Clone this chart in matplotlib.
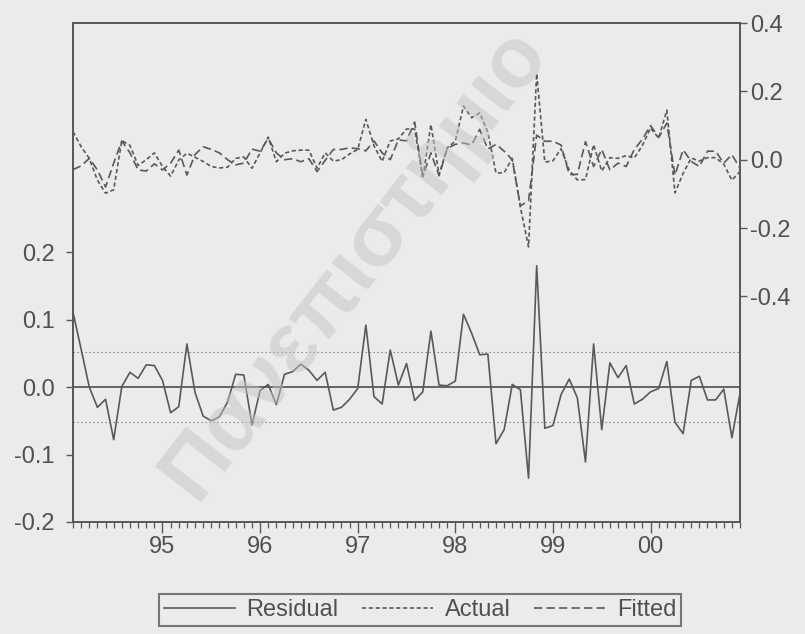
"""
Residual / Actual / Fitted chart (EViews style, monthly 1994M2-2000M12)
"""
import matplotlib
matplotlib.use('Agg')
import matplotlib.pyplot as plt
import matplotlib.ticker as mticker
import numpy as np

plt.rcParams['font.family'] = ['Liberation Sans', 'DejaVu Sans']
plt.rcParams['axes.unicode_minus'] = False

BG = '#ebebeb'
INK = '#595959'
TXT = '#505050'

# ── Data ──
START_YEAR = 1994
START_MONTH = 2

residual = [
    0.111, 0.056, 0.000, -0.030, -0.018, -0.078, 0.001, 0.022, 0.013, 0.033,
    0.032, 0.010, -0.038, -0.029, 0.064, -0.008, -0.043, -0.050, -0.044, -0.022,
    0.019, 0.018, -0.056, -0.005, 0.004, -0.026, 0.019, 0.023, 0.034, 0.025,
    0.010, 0.022, -0.034, -0.030, -0.018, -0.002, 0.092, -0.014, -0.025, 0.055,
    0.003, 0.035, -0.020, -0.007, 0.083, 0.003, 0.002, 0.009, 0.108, 0.080,
    0.048, 0.049, -0.084, -0.063, 0.004, -0.004, -0.135, 0.180, -0.061, -0.057,
    -0.011, 0.012, -0.016, -0.111, 0.064, -0.063, 0.036, 0.014, 0.032, -0.025,
    -0.018, -0.007, -0.002, 0.038, -0.052, -0.069, 0.010, 0.016, -0.019, -0.019,
    -0.003, -0.075, -0.009,
]

actual = [
    0.082, 0.038, 0.004, -0.060, -0.098, -0.088, 0.056, 0.042, -0.017, 0.000,
    0.020, -0.020, -0.048, -0.001, 0.019, 0.007, -0.005, -0.020, -0.024, -0.022,
    0.004, 0.008, -0.025, 0.020, 0.066, -0.006, 0.019, 0.026, 0.028, 0.028,
    -0.025, 0.020, -0.004, 0.000, 0.017, 0.030, 0.118, 0.041, -0.005, 0.055,
    0.061, 0.090, 0.090, -0.055, 0.103, -0.044, 0.035, 0.054, 0.157, 0.123,
    0.137, 0.080, -0.039, -0.038, 0.004, -0.139, -0.255, 0.252, -0.007, -0.003,
    0.032, -0.031, -0.059, -0.058, 0.044, -0.033, 0.006, 0.004, 0.012, 0.005,
    0.042, 0.093, 0.063, 0.145, -0.097, -0.040, 0.005, -0.004, 0.006, 0.006,
    -0.013, -0.060, -0.034,
]

fitted = [
    -0.029, -0.018, 0.004, -0.030, -0.080, -0.010, 0.055, 0.020, -0.030, -0.033,
    -0.012, -0.030, -0.010, 0.028, -0.045, 0.015, 0.038, 0.030, 0.020, 0.000,
    -0.015, -0.010, 0.031, 0.025, 0.062, 0.020, 0.000, 0.003, -0.006, 0.003,
    -0.035, -0.002, 0.030, 0.030, 0.035, 0.032, 0.026, 0.055, 0.020, 0.000,
    0.058, 0.055, 0.110, -0.048, 0.020, -0.047, 0.033, 0.045, 0.049, 0.043,
    0.089, 0.031, 0.045, 0.025, 0.000, -0.135, -0.120, 0.072, 0.054, 0.054,
    0.043, -0.043, -0.043, 0.053, -0.020, 0.030, -0.030, -0.010, -0.020, 0.030,
    0.060, 0.100, 0.065, 0.107, -0.045, 0.029, -0.005, -0.020, 0.025, 0.025,
    -0.010, 0.015, -0.025,
]

SE = 0.052  # +/- 1 S.E. band drawn in residual panel

year_ticks = [1995, 1996, 1997, 1998, 1999, 2000]
year_labels = ['95', '96', '97', '98', '99', '00']
left_ticks = [-0.2, -0.1, 0.0, 0.1, 0.2]
right_ticks = [-0.4, -0.2, 0.0, 0.2, 0.4]

n = len(residual)
t = START_YEAR + (START_MONTH - 1 + np.arange(n)) / 12.0

# ── Figure ──
fig = plt.figure(figsize=(8.05, 6.34), dpi=100, facecolor=BG)
ax = fig.add_axes([0.0907, 0.1767, 0.8286, 0.7870])
ax.set_facecolor(BG)
ax2 = ax.twinx()

# residual panel (left axis)
ax.axhline(0, color=INK, lw=1.3, zorder=2)
ax.axhline(SE, color='#7a7a7a', lw=0.8, ls=(0, (1.2, 2.4)), zorder=2)
ax.axhline(-SE, color='#7a7a7a', lw=0.8, ls=(0, (1.2, 2.4)), zorder=2)
h_res, = ax.plot(t, residual, color=INK, lw=1.2, zorder=3, label='Residual')

# actual / fitted (right axis)
h_act, = ax2.plot(t, actual, color=INK, lw=1.2, ls=(0, (2.5, 1.6)), label='Actual')
h_fit, = ax2.plot(t, fitted, color=INK, lw=1.2, ls=(0, (5, 2.5)), label='Fitted')

ax.set_xlim(t[0], t[-1])
ax.set_ylim(-0.2, 0.54)
ax2.set_ylim(-1.06, 0.40)

ax.set_xticks(year_ticks)
ax.set_xticklabels(year_labels)
ax.xaxis.set_minor_locator(mticker.FixedLocator(t))
ax.set_yticks(left_ticks)
ax.yaxis.set_major_formatter(mticker.FormatStrFormatter('%.1f'))
ax2.set_yticks(right_ticks)
ax2.yaxis.set_major_formatter(mticker.FormatStrFormatter('%.1f'))

ax.tick_params(axis='x', which='major', direction='out', length=8, width=1,
               color=INK, labelcolor=TXT, labelsize=17, pad=2)
ax.tick_params(axis='x', which='minor', direction='out', length=4.5, width=0.9, color=INK)
ax.tick_params(axis='y', direction='out', length=5, width=1,
               color=INK, labelcolor=TXT, labelsize=17, pad=8)
ax2.tick_params(axis='y', direction='out', length=5, width=1,
                color=INK, labelcolor=TXT, labelsize=17, pad=2)

for a in (ax, ax2):
    for sp in a.spines.values():
        sp.set_color(INK)
        sp.set_linewidth(1.3)

# Legend
leg = fig.legend([h_res, h_act, h_fit], ['Residual', 'Actual', 'Fitted'],
                 loc='center', bbox_to_anchor=(0.522, 0.038), ncol=3,
                 frameon=True, fancybox=False, facecolor=BG, edgecolor=INK,
                 fontsize=17, handlelength=3.0, handletextpad=0.5,
                 columnspacing=1.0, borderpad=0.2, labelcolor=TXT)
leg.get_frame().set_linewidth(1.5)

# Scan watermark
fig.text(0.44, 0.585, 'Πανεπιστήμιο', rotation=52, fontsize=62,
         fontweight='bold', color='#c4c4c4', alpha=0.5,
         ha='center', va='center', rotation_mode='anchor', zorder=10)

plt.savefig('out.png', dpi=100, facecolor=BG)
print("Saved: out.png")
plt.close()
